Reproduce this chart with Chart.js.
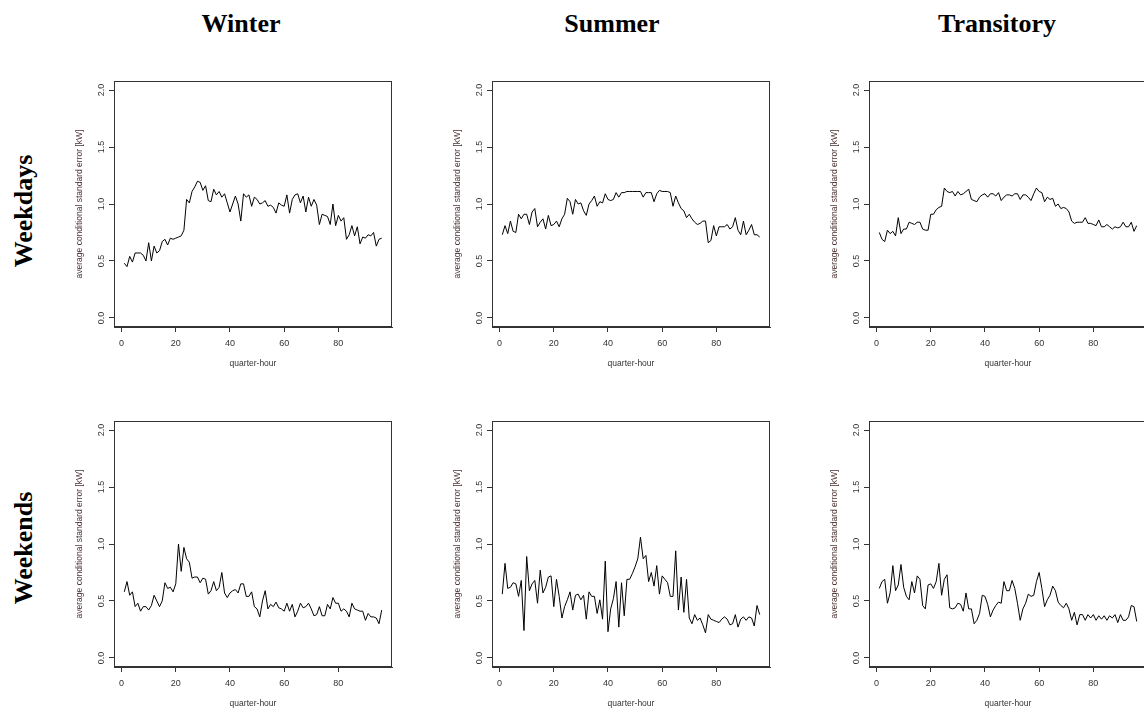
<!DOCTYPE html>
<html><head><meta charset="utf-8">
<script src="https://cdn.jsdelivr.net/npm/chart.js@4"></script>
<style>
html,body{margin:0;padding:0;background:#fff;overflow:hidden;width:1144px;height:709px;position:relative;}
canvas.panel{position:absolute;}
.title{position:absolute;font-family:"Liberation Serif","Times New Roman",serif;font-weight:bold;font-size:26px;color:#000;white-space:nowrap;transform:translate(-50%,-50%);line-height:1;}
.rowlab{position:absolute;font-family:"Liberation Serif","Times New Roman",serif;font-weight:bold;font-size:26px;color:#000;white-space:nowrap;transform:translate(-50%,-50%) rotate(-90deg);line-height:1;}
</style></head><body>
<script>
const quarterHours = [1,2,3,4,5,6,7,8,9,10,11,12,13,14,15,16,17,18,19,20,21,22,23,24,25,26,27,28,29,30,31,32,33,34,35,36,37,38,39,40,41,42,43,44,45,46,47,48,49,50,51,52,53,54,55,56,57,58,59,60,61,62,63,64,65,66,67,68,69,70,71,72,73,74,75,76,77,78,79,80,81,82,83,84,85,86,87,88,89,90,91,92,93,94,95,96];
const seasons = ['Winter','Summer','Transitory'];
const dayTypes = ['Weekdays','Weekends'];
const xTickValues = [0,20,40,60,80];
const yTickValues = [0,0.5,1,1.5,2];

const winterWeekdays = [0.48,0.45,0.54,0.49,0.57,0.57,0.57,0.55,0.50,0.66,0.50,0.63,0.57,0.59,0.67,0.69,0.64,0.70,0.69,0.70,0.71,0.72,0.77,1.04,1.01,1.11,1.15,1.20,1.19,1.12,1.16,1.03,1.02,1.13,1.08,1.11,1.06,1.09,1.01,0.93,1.00,1.07,1.00,0.85,1.09,1.06,1.08,0.98,1.06,1.04,1.00,1.01,1.03,0.98,0.99,0.97,0.92,1.01,0.99,0.98,1.08,0.92,1.04,1.08,1.09,1.01,1.07,0.93,1.06,0.98,1.04,0.99,0.82,0.91,0.90,0.89,0.82,1.00,0.81,0.90,0.85,0.88,0.69,0.73,0.81,0.72,0.80,0.65,0.71,0.70,0.73,0.72,0.75,0.63,0.69,0.70];
const summerWeekdays = [0.73,0.81,0.74,0.85,0.76,0.75,0.91,0.87,0.91,0.91,0.82,0.93,0.96,0.80,0.84,0.87,0.78,0.90,0.81,0.82,0.85,0.80,0.87,0.91,1.05,1.02,0.91,1.04,1.00,1.01,0.94,0.90,1.00,1.03,1.07,0.98,1.02,1.01,1.09,1.04,1.03,1.04,1.10,1.06,1.10,1.10,1.11,1.11,1.11,1.11,1.11,1.11,1.06,1.10,1.10,1.10,1.02,1.09,1.12,1.11,1.11,1.11,1.10,0.98,1.07,1.01,0.96,0.94,0.88,0.91,0.87,0.84,0.82,0.83,0.85,0.85,0.66,0.68,0.81,0.72,0.80,0.80,0.80,0.82,0.78,0.80,0.88,0.77,0.73,0.85,0.73,0.77,0.82,0.73,0.73,0.71];
const transitoryWeekdays = [0.75,0.69,0.67,0.77,0.74,0.76,0.72,0.88,0.74,0.78,0.78,0.84,0.83,0.82,0.84,0.84,0.78,0.77,0.77,0.91,0.91,0.95,0.97,0.98,1.14,1.11,1.10,1.11,1.07,1.11,1.08,1.09,1.11,1.13,1.04,1.03,1.02,1.06,1.08,1.09,1.06,1.09,1.09,1.07,1.10,1.03,1.06,1.08,1.08,1.07,1.09,1.09,1.04,1.08,1.08,1.06,1.03,1.09,1.14,1.11,1.10,1.02,1.06,1.04,1.05,0.98,1.00,0.96,0.97,0.96,0.93,0.85,0.83,0.84,0.84,0.84,0.88,0.83,0.83,0.82,0.81,0.86,0.80,0.80,0.82,0.80,0.78,0.80,0.79,0.80,0.84,0.80,0.80,0.84,0.76,0.81];
const winterWeekends = [0.58,0.67,0.55,0.58,0.45,0.48,0.41,0.45,0.45,0.42,0.46,0.55,0.50,0.45,0.50,0.66,0.61,0.62,0.58,0.65,1.00,0.76,0.97,0.87,0.84,0.70,0.71,0.71,0.66,0.70,0.69,0.56,0.59,0.67,0.59,0.62,0.75,0.57,0.53,0.57,0.59,0.60,0.57,0.65,0.65,0.54,0.54,0.58,0.45,0.43,0.36,0.50,0.59,0.43,0.47,0.45,0.49,0.44,0.43,0.41,0.48,0.41,0.47,0.36,0.41,0.48,0.44,0.45,0.48,0.43,0.37,0.38,0.45,0.37,0.37,0.47,0.43,0.53,0.48,0.48,0.41,0.43,0.41,0.36,0.48,0.43,0.42,0.41,0.41,0.33,0.39,0.36,0.36,0.35,0.30,0.42];
const summerWeekends = [0.56,0.83,0.61,0.62,0.66,0.65,0.54,0.68,0.24,0.89,0.59,0.65,0.68,0.48,0.77,0.57,0.62,0.71,0.72,0.45,0.69,0.54,0.35,0.45,0.51,0.58,0.42,0.55,0.56,0.51,0.55,0.34,0.58,0.54,0.54,0.39,0.51,0.34,0.85,0.23,0.43,0.52,0.67,0.27,0.66,0.37,0.69,0.69,0.74,0.80,0.87,1.06,0.87,0.90,0.67,0.75,0.63,0.81,0.56,0.72,0.69,0.66,0.54,0.54,0.94,0.42,0.71,0.40,0.69,0.35,0.30,0.38,0.33,0.35,0.29,0.22,0.38,0.34,0.33,0.32,0.31,0.34,0.36,0.34,0.29,0.30,0.38,0.27,0.34,0.36,0.33,0.36,0.35,0.28,0.46,0.38];
const transitoryWeekends = [0.61,0.67,0.69,0.48,0.57,0.81,0.59,0.64,0.82,0.62,0.54,0.51,0.67,0.57,0.72,0.69,0.46,0.43,0.64,0.65,0.61,0.67,0.83,0.55,0.69,0.73,0.44,0.43,0.44,0.48,0.47,0.41,0.57,0.43,0.43,0.30,0.33,0.39,0.55,0.54,0.47,0.36,0.42,0.46,0.49,0.48,0.67,0.59,0.59,0.68,0.61,0.48,0.33,0.43,0.48,0.56,0.54,0.55,0.67,0.75,0.61,0.45,0.51,0.55,0.63,0.59,0.49,0.46,0.44,0.48,0.43,0.33,0.40,0.29,0.38,0.38,0.33,0.38,0.35,0.38,0.33,0.37,0.34,0.37,0.33,0.37,0.35,0.38,0.31,0.38,0.33,0.33,0.36,0.46,0.45,0.32];

const seriesGrid = [
  [winterWeekdays, summerWeekdays, transitoryWeekdays],
  [winterWeekends, summerWeekends, transitoryWeekends]
];

// layout
const boxLefts = [114, 492, 869];
const boxTops = [81, 421];
const boxW = 278, boxH = 246;
const padL = 60, padT = 10, padR = 10, padB = 55;
const titleCenters = [241, 612, 997];
const rowCenters = [211, 548];

seasons.forEach((s, i) => {
  const d = document.createElement('div');
  d.className = 'title'; d.textContent = s;
  d.style.left = titleCenters[i] + 'px'; d.style.top = '24px';
  document.body.appendChild(d);
});
dayTypes.forEach((s, i) => {
  const d = document.createElement('div');
  d.className = 'rowlab'; d.textContent = s;
  d.style.left = '24px'; d.style.top = rowCenters[i] + 'px';
  document.body.appendChild(d);
});

const boxPlugin = {
  id: 'rbox',
  afterDraw(chart) {
    const {ctx, chartArea: a} = chart;
    ctx.save();
    ctx.strokeStyle = '#333';
    ctx.lineWidth = 1;
    ctx.strokeRect(Math.round(a.left) + 0.5, Math.round(a.top) + 0.5, Math.round(a.right - a.left) - 1, Math.round(a.bottom - a.top) - 1);
    ctx.restore();
  }
};

const tickFont = {family: '"Liberation Sans", Arial, sans-serif', size: 9};
const titleFont = {family: '"Liberation Sans", Arial, sans-serif', size: 8.5};

for (let r = 0; r < 2; r++) {
  for (let c = 0; c < 3; c++) {
    const cv = document.createElement('canvas');
    cv.className = 'panel';
    const w = boxW + padL + padR, h = boxH + padT + padB;
    cv.width = w; cv.height = h;
    cv.style.width = w + 'px'; cv.style.height = h + 'px';
    cv.style.left = (boxLefts[c] - padL) + 'px';
    cv.style.top = (boxTops[r] - padT) + 'px';
    document.body.appendChild(cv);
    const vals = seriesGrid[r][c];
    new Chart(cv.getContext('2d'), {
      type: 'line',
      data: {
        datasets: [{
          data: quarterHours.map((q, k) => ({x: q, y: vals[k]})),
          borderColor: '#000',
          borderWidth: 1,
          pointRadius: 0,
          tension: 0,
          fill: false
        }]
      },
      options: {
        responsive: false,
        animation: false,
        devicePixelRatio: 1,
        layout: {padding: {left: 0, top: padT, right: padR, bottom: 0}},
        plugins: {legend: {display: false}, tooltip: {enabled: false}},
        scales: {
          x: {
            type: 'linear', min: -2.8, max: 99.8,
            afterBuildTicks: sc => { sc.ticks = xTickValues.map(v => ({value: v})); },
            afterFit: sc => { sc.height = padB; },
            ticks: {font: tickFont, color: '#333', padding: 6, minRotation: 0, maxRotation: 0, autoSkip: false,
              callback: v => String(v)},
            grid: {drawOnChartArea: false, drawTicks: true, tickLength: 5, color: '#333'},
            border: {display: true, color: '#333'},
            title: {display: true, text: 'quarter-hour', font: titleFont, color: '#333', padding: {top: 0, bottom: 13}}
          },
          y: {
            type: 'linear', min: -0.08, max: 2.08,
            afterBuildTicks: sc => { sc.ticks = yTickValues.map(v => ({value: v})); },
            afterFit: sc => { sc.width = padL; },
            ticks: {font: tickFont, color: '#333', padding: 1, minRotation: 90, maxRotation: 90, crossAlign: 'center', autoSkip: false,
              callback: v => Number(v).toFixed(1)},
            grid: {drawOnChartArea: false, drawTicks: true, tickLength: 5, color: '#333'},
            border: {display: true, color: '#333'},
            title: {display: true, text: 'average conditional standard error [kW]', font: titleFont, color: '#4a3030', padding: {top: 21, bottom: 0}}
          }
        }
      },
      plugins: [boxPlugin]
    });
  }
}
</script>
</body></html>
